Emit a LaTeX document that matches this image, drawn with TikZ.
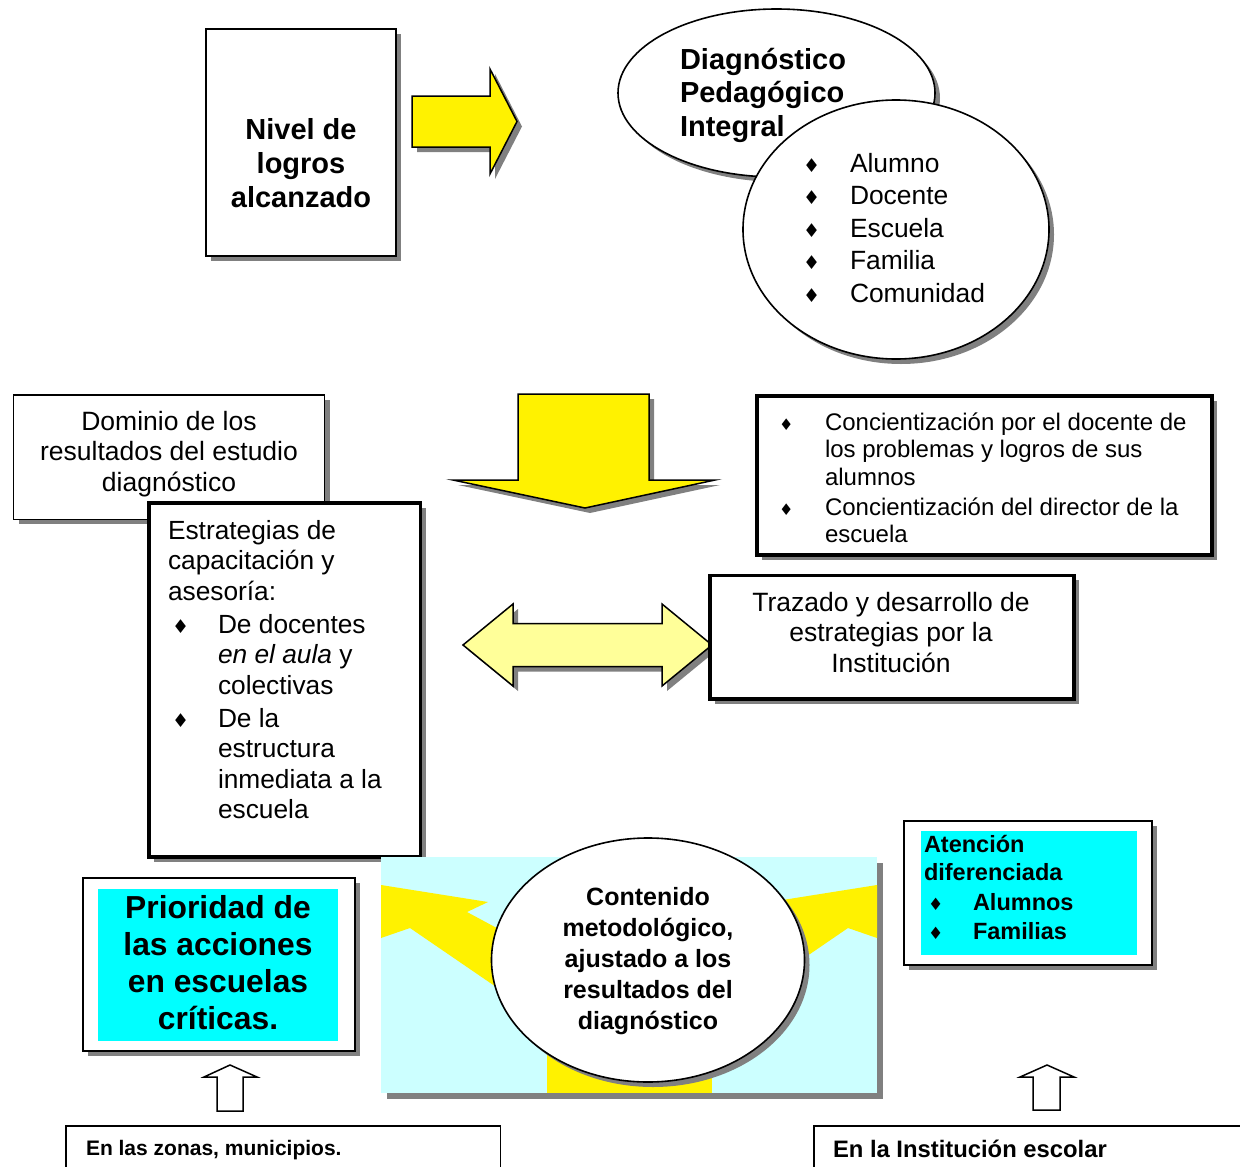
\documentclass[tikz,border=0pt]{standalone}
\usepackage{fontspec}
\setmainfont{Liberation Sans}
\newfontfamily\dvfont{DejaVu Sans}
\usetikzlibrary{shadows,shapes.geometric}

% font size helper: size and baseline skip, in pt
\newcommand\fsz[2]{\fontsize{#1pt}{#2pt}\selectfont}
% diamond bullet
\newcommand\dmd[1]{{\dvfont\fontsize{#1pt}{#1pt}\selectfont ♦}}
% bullet with hanging indent: box width, bullet offset, bullet size
\newcommand\bl[3]{\makebox[#1][l]{\hspace*{#2}\dmd{#3}}}

\definecolor{shadowgray}{HTML}{808080}
\definecolor{lightyellow}{HTML}{FFFF99}
\definecolor{aqua}{HTML}{00FFFF}
\definecolor{paleaqua}{HTML}{CCFFFF}

\tikzset{
  shd/.style={drop shadow={shadow xshift=5pt,shadow yshift=-5pt,fill=shadowgray,opacity=1}},
  thinbox/.style={draw=black,line width=1.8pt,fill=white,shd,rectangle,inner sep=0pt},
  heavybox/.style={draw=black,line width=3.6pt,fill=white,shd,rectangle,inner sep=0pt},
  oval/.style={draw=black,line width=1.6pt,fill=white,shd,ellipse,inner sep=0pt},
  blockarrow/.style={draw=black,line width=1.5pt,line join=miter,shd},
  outlinearrow/.style={draw=black,line width=1.5pt,fill=white,line join=miter},
  txt/.style={inner sep=0pt,outer sep=0pt},
}

\begin{document}
\begin{tikzpicture}[x=1pt,y=-1pt]
\useasboundingbox (0,0) rectangle (1240,1167);
% multi-line texts are placed by the baseline of their last line

% ---------- top row ----------
\node[thinbox,minimum width=190pt,minimum height=227pt] (nivel) at (301,142.5) {};
\node[txt,anchor=base,align=center,font=\bfseries\fsz{29}{34}] (niveltxt) at (301,207)
  {Nivel de\\logros\\alcanzado};

\fill[blockarrow,fill=yellow] (412,96) -- (490,96) -- (490,69) -- (517,121.5)
  -- (490,174) -- (490,147) -- (412,147) -- cycle;

\node[oval,minimum width=317pt,minimum height=168pt] (diag) at (776.5,93) {};
\node[txt,anchor=base west,align=left,font=\bfseries\fsz{29}{33.5}] (diagtxt) at (680,136)
  {Diagnóstico\\Pedagógico\\Integral};

\node[oval,minimum width=306pt,minimum height=259pt] (ambitos) at (896,229.5) {};
\node[txt,anchor=base west,align=left,font=\fsz{26.4}{32.5}] (ambitostxt) at (803,302)
  {\bl{47pt}{0pt}{19}Alumno\\
   \bl{47pt}{0pt}{19}Docente\\
   \bl{47pt}{0pt}{19}Escuela\\
   \bl{47pt}{0pt}{19}Familia\\
   \bl{47pt}{0pt}{19}Comunidad};

% ---------- middle band ----------
\node[thinbox,minimum width=311pt,minimum height=124.5pt] (dominio) at (169,457.2) {};
\node[txt,anchor=base,align=center,font=\fsz{26.5}{30.5}] (dominiotxt) at (169,491)
  {Dominio de los\\resultados del estudio\\diagnóstico};

\fill[blockarrow,fill=yellow] (518,394) -- (649,394) -- (649,480) -- (715,480)
  -- (585,508) -- (453,480) -- (518,480) -- cycle;

\node[heavybox,minimum width=455pt,minimum height=159pt] (concien) at (984.5,475.5) {};
\node[txt,anchor=base west,align=left,font=\fsz{24}{27.5}] (concientxt) at (779,542.5)
  {\bl{46pt}{0pt}{16}Concientización por el docente de\\
   \hspace*{46pt}los problemas y logros de sus\\
   \hspace*{46pt}alumnos\\[2.5pt]
   \bl{46pt}{0pt}{16}Concientización del director de la\\
   \hspace*{46pt}escuela};

\node[heavybox,minimum width=271.8pt,minimum height=354pt] (estrat) at (284.6,680) {};
\node[txt,anchor=base west,align=left,font=\fsz{26.3}{30.5}] (estrattxt) at (168,818.5)
  {Estrategias de\\
   capacitación y\\
   asesoría:\\[2.5pt]
   \bl{50pt}{4pt}{19}De docentes\\
   \hspace*{50pt}\textit{en el aula} y\\
   \hspace*{50pt}colectivas\\[2.5pt]
   \bl{50pt}{4pt}{19}De la\\
   \hspace*{50pt}estructura\\
   \hspace*{50pt}inmediata a la\\
   \hspace*{50pt}escuela};

\fill[blockarrow,fill=lightyellow] (463,645) -- (513,604) -- (513,623.5) -- (662,623.5)
  -- (662,604) -- (712,645) -- (662,686) -- (662,666.5) -- (513,666.5) -- (513,686) -- cycle;

\node[heavybox,minimum width=364pt,minimum height=123.5pt] (trazado) at (892,637.2) {};
\node[txt,anchor=base,align=center,font=\fsz{26.5}{30.5}] (trazadotxt) at (891,672)
  {Trazado y desarrollo de\\estrategias por la\\Institución};

% ---------- bottom band ----------
\node[thinbox,minimum width=272.3pt,minimum height=173.3pt] (priorid) at (218.8,964.3) {};
\fill[aqua] (98,889) rectangle (338,1041);
\node[txt,anchor=base,align=center,font=\bfseries\fsz{31.8}{37}] (prioridtxt) at (218,1029)
  {Prioridad de\\las acciones\\en escuelas\\críticas.};

% panel behind the central oval
\fill[shadowgray] (387,863) rectangle (883,1099);
\fill[paleaqua] (381,857) rectangle (877,1093);
\fill[yellow] (381,885) -- (488,902) -- (467,912) -- (560,962) -- (540,1017)
  -- (410,928) -- (381,938) -- cycle;
\fill[yellow] (877,885) -- (770,902) -- (791,912) -- (698,962) -- (718,1017)
  -- (848,928) -- (877,938) -- cycle;
\fill[yellow] (547,1000) rectangle (712,1093);

\node[oval,minimum width=313pt,minimum height=244pt] (contenido) at (648,960) {};
\node[txt,anchor=base,align=center,font=\bfseries\fsz{25}{31}] (contenidotxt) at (648,1029)
  {Contenido\\metodológico,\\ajustado a los\\resultados del\\diagnóstico};

\node[thinbox,minimum width=248pt,minimum height=144pt] (atencion) at (1028,893) {};
\fill[aqua] (921,831) rectangle (1137,955);
\node[txt,anchor=base west,align=left,font=\bfseries\fsz{23.5}{28.7}] (atenciontxt) at (924,939.6)
  {Atención\\
   diferenciada\\[1.5pt]
   \bl{49pt}{4pt}{17}Alumnos\\
   \bl{49pt}{4pt}{17}Familias};

% ---------- footer ----------
\node[draw=black,line width=1.8pt,rectangle,inner sep=0pt,minimum width=434.5pt,
  minimum height=80pt,anchor=north west] (zonas) at (65,1125) {};
\node[txt,anchor=base west,font=\bfseries\fsz{21}{25}] (zonastxt) at (86,1155)
  {En las zonas, municipios.};

\node[draw=black,line width=1.8pt,rectangle,inner sep=0pt,minimum width=460pt,
  minimum height=80pt,anchor=north west] (institucion) at (812.7,1125) {};
\node[txt,anchor=base west,font=\bfseries\fsz{23.8}{28}] (instituciontxt) at (833,1157)
  {En la Institución escolar};

\draw[outlinearrow] (230,1065) -- (257,1077) -- (243,1077) -- (243,1111)
  -- (217,1111) -- (217,1077) -- (204,1077) -- cycle;
\draw[outlinearrow] (1047,1065) -- (1074,1077) -- (1060,1077) -- (1060,1110)
  -- (1033,1110) -- (1033,1077) -- (1020,1077) -- cycle;

\end{tikzpicture}
\end{document}
